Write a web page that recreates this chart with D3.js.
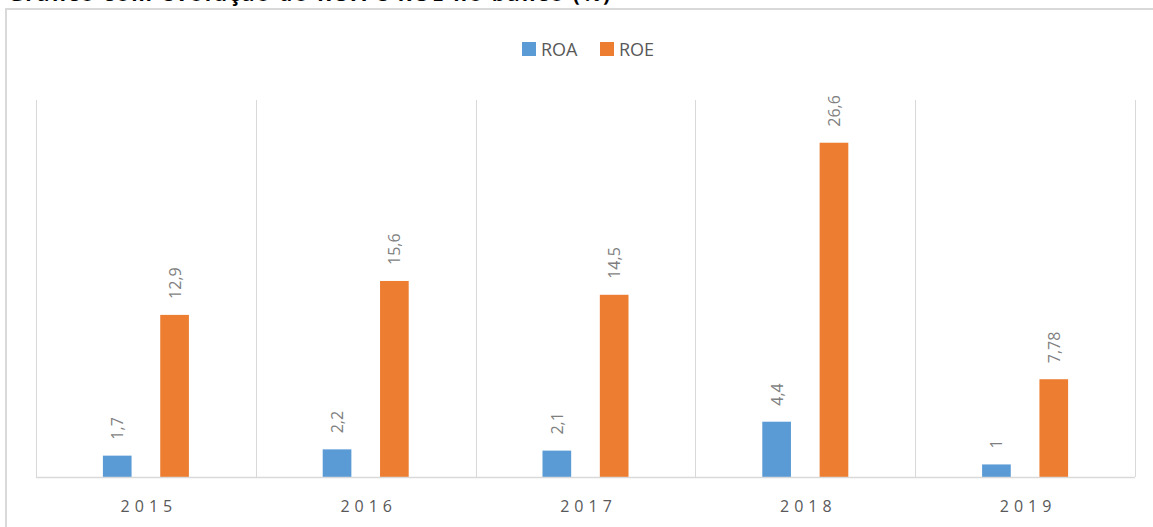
<!DOCTYPE html>
<html>
<head>
<meta charset="utf-8">
<script src="https://cdn.jsdelivr.net/npm/d3@7"></script>
<style>
  body { margin: 0; background: #fff; }
  svg { display: block; }
</style>
</head>
<body>
<svg id="chart" width="1153" height="527"></svg>
<script>
// data
const years = ["2015", "2016", "2017", "2018", "2019"];
const seriesNames = ["ROA", "ROE"];
const roa = [1.7, 2.2, 2.1, 4.4, 1];
const roe = [12.9, 15.6, 14.5, 26.6, 7.78];
const roaLabels = ["1,7", "2,2", "2,1", "4,4", "1"];
const roeLabels = ["12,9", "15,6", "14,5", "26,6", "7,78"];
const colors = ["#5B9BD5", "#ED7D31"];

const svg = d3.select("#chart");
const font = "'Open Sans', sans-serif";

// title, cut off at the top edge as in the source picture
svg.append("text")
  .attr("x", 8)
  .attr("y", 1)
  .attr("font-family", font)
  .attr("font-weight", "bold")
  .attr("font-size", 21)
  .attr("textLength", 602)
  .attr("lengthAdjust", "spacing")
  .attr("fill", "#000")
  .text("Gráfico com evolução do ROA e ROE no banco (%)");

// outer chart frame
svg.append("rect")
  .attr("x", 6)
  .attr("y", 9)
  .attr("width", 1160)
  .attr("height", 540)
  .attr("fill", "#fff")
  .attr("stroke", "#D9D9D9")
  .attr("stroke-width", 2);

const plot = { left: 36, right: 1135, top: 100, bottom: 477 };

const x0 = d3.scaleBand()
  .domain(years)
  .range([plot.left, plot.right]);

const x1 = d3.scaleBand()
  .domain(seriesNames)
  .range([x0.bandwidth() / 2 - 43, x0.bandwidth() / 2 + 43])
  .paddingInner(0.5);

const y = d3.scaleLinear()
  .domain([0, 30])
  .range([plot.bottom, plot.top]);

// vertical category gridlines
const bounds = years.map(d => x0(d)).concat([plot.right]);
svg.append("g")
  .selectAll("line")
  .data(bounds)
  .join("line")
  .attr("x1", d => Math.round(d) + 0.5)
  .attr("x2", d => Math.round(d) + 0.5)
  .attr("y1", plot.top)
  .attr("y2", plot.bottom)
  .attr("stroke", "#D9D9D9")
  .attr("stroke-width", 1);

// bars
const rows = years.map((yr, i) => ({
  year: yr,
  vals: [
    { key: "ROA", v: roa[i], label: roaLabels[i] },
    { key: "ROE", v: roe[i], label: roeLabels[i] }
  ]
}));

const groups = svg.append("g")
  .selectAll("g")
  .data(rows)
  .join("g")
  .attr("transform", d => `translate(${x0(d.year)},0)`);

groups.selectAll("rect")
  .data(d => d.vals)
  .join("rect")
  .attr("x", d => x1(d.key))
  .attr("y", d => y(d.v))
  .attr("width", x1.bandwidth())
  .attr("height", d => y(0) - y(d.v))
  .attr("fill", (d, i) => colors[i]);

// rotated value labels
groups.selectAll("text")
  .data(d => d.vals)
  .join("text")
  .attr("transform", d => `translate(${x1(d.key) + x1.bandwidth() / 2 + 6},${y(d.v) - 16}) rotate(-90)`)
  .attr("font-family", font)
  .attr("font-size", 16)
  .attr("fill", "#7F7F7F")
  .text(d => d.label);

// baseline
svg.append("line")
  .attr("x1", plot.left)
  .attr("x2", plot.right)
  .attr("y1", plot.bottom + 0.5)
  .attr("y2", plot.bottom + 0.5)
  .attr("stroke", "#D9D9D9")
  .attr("stroke-width", 1.5);

// x axis labels
const xAxis = d3.axisBottom(x0).tickSize(0).tickPadding(0);
const gx = svg.append("g")
  .attr("transform", `translate(0,${plot.bottom})`)
  .call(xAxis);
gx.select(".domain").remove();
gx.selectAll("text")
  .attr("x", 3)
  .attr("y", 35)
  .attr("dy", 0)
  .attr("font-family", font)
  .attr("font-size", 16)
  .attr("letter-spacing", 5)
  .attr("fill", "#595959");

// legend
const legend = svg.append("g").attr("transform", "translate(522,41)");
const items = legend.selectAll("g")
  .data(seriesNames)
  .join("g")
  .attr("transform", (d, i) => `translate(${i * 78},0)`);
items.append("rect")
  .attr("width", 14)
  .attr("height", 14)
  .attr("y", 1)
  .attr("fill", (d, i) => colors[i]);
items.append("text")
  .attr("x", 19)
  .attr("y", 15)
  .attr("font-family", font)
  .attr("font-size", 18)
  .attr("fill", "#595959")
  .text(d => d);
</script>
</body>
</html>
